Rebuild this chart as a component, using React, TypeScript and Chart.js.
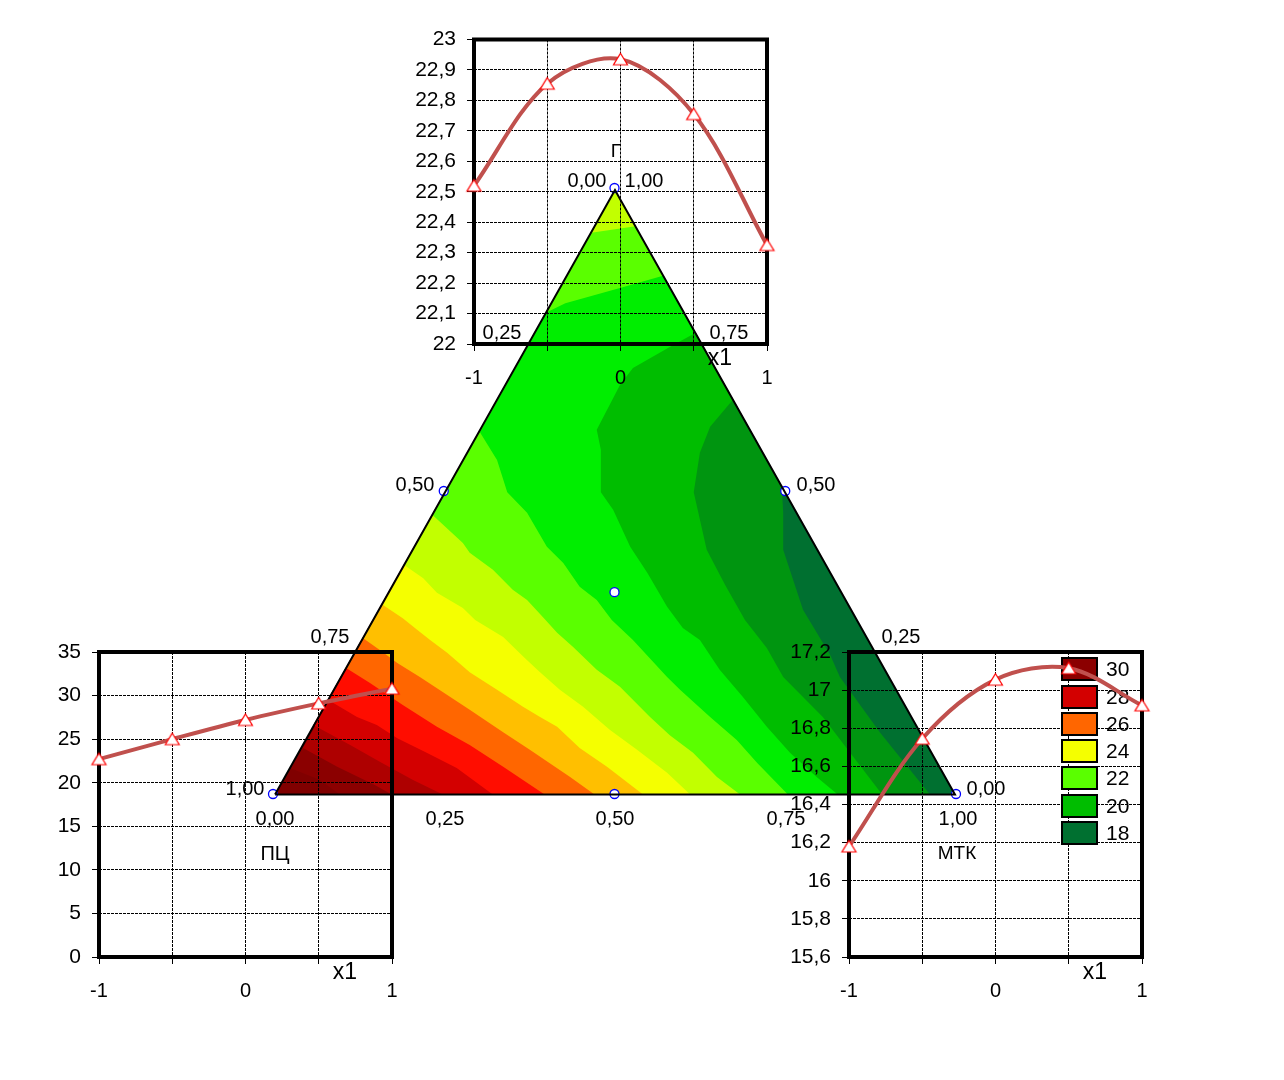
import React, { useEffect, useRef } from "react";
import { Chart, registerables } from "chart.js";

Chart.register(...registerables);

const FONT = '"Liberation Sans", Arial, sans-serif';

// Response curves
const factorLevels = [-1, -0.5, 0, 0.5, 1];
const topCurve = [22.52, 22.855, 22.935, 22.755, 22.325];
const leftCurve = [22.7, 25.0, 27.2, 29.1, 30.8];
const rightCurve = [16.18, 16.745, 17.055, 17.115, 16.92];

// Ternary plot, in plot units (x: 0..100 along the base, y: Г share 0..100)
const APEX: [number, number] = [50.07, 99.67];
const RIGHT: [number, number] = [99.85, -0.1];
const LEFT: [number, number] = [0.3, -0.1];

const bandColors = [
  "#800000", "#8B0000", "#AE0000", "#D30000", "#FF0D00", "#FF6600", "#FFBF00",
  "#F5FF00", "#C2FF00", "#5AFF00", "#00EE00", "#00BD00", "#009510", "#007030",
];

const contour1 = [[2.5, 4.3], [6.9, 2.3], [9.8, -0.1]];
const contour2 = [[4.4, 7.6], [9.4, 4.5], [14.9, 1.5], [17.4, -0.1]];
const contour3 = [[5.9, 11.4], [11.3, 8.1], [15.7, 5.3], [20.5, 2.3], [24.9, -0.1]];
const contour4 = [[8.1, 15.5], [12.3, 12.7], [15.2, 11.4], [18.2, 9.2], [22.5, 6.8], [26.9, 4.3], [32.2, -0.1]];
const contour5 = [[10.7, 20.8], [14.2, 18.3], [19.0, 14.7], [24.0, 11.1], [28.8, 8.1], [33.7, 4.5], [39.8, -0.1]];
const contour6 = [[13.2, 25.7], [16.1, 23.4], [18.2, 21.6], [21.5, 19.3], [24.9, 16.8], [28.8, 13.9], [33.7, 10.2], [37.6, 7.3], [43.5, 2.8], [47.1, -0.1]];
const contour7 = [[16.1, 31.2], [19.0, 29.0], [21.1, 27.1], [23.0, 25.4], [25.5, 23.3], [28.8, 20.1], [32.8, 17.2], [36.6, 14.4], [39.1, 12.7], [41.6, 11.1], [44.9, 7.6], [48.9, 4.5], [54.2, -0.1]];
const contour8 = [[19.2, 37.8], [22.0, 35.6], [24.0, 33.2], [27.8, 30.7], [29.6, 28.7], [33.7, 25.9], [36.9, 22.4], [39.1, 20.1], [42.0, 17.2], [45.4, 14.4], [49.3, 10.6], [53.3, 7.3], [57.7, 3.5], [61.1, -0.1]];
const contour9 = [[23.4, 46.0], [27.8, 41.4], [28.8, 39.8], [32.2, 37.0], [35.1, 33.7], [37.2, 32.0], [39.5, 29.2], [41.6, 26.6], [43.9, 24.3], [47.4, 20.5], [50.8, 17.7], [55.2, 12.7], [58.1, 9.7], [61.5, 6.8], [65.0, 2.8], [68.4, -0.1]];
const contour10 = [[30.3, 59.7], [32.8, 55.1], [34.3, 49.8], [37.2, 46.4], [40.1, 40.8], [42.5, 38.1], [44.9, 34.2], [47.4, 32.0], [49.6, 28.7], [52.7, 25.4], [57.7, 19.3], [59.6, 17.2], [64.0, 12.7], [67.9, 8.9], [70.9, 5.1], [75.4, -0.1]];
const contour11 = [[61.9, 76.1], [58.6, 74.1], [52.7, 70.3], [50.8, 67.5], [47.4, 60.1], [48.0, 56.8], [48.0, 49.8], [49.8, 46.9], [52.3, 40.8], [54.8, 36.5], [57.7, 30.9], [60.0, 27.4], [62.5, 25.4], [65.4, 20.5], [68.8, 16.0], [72.3, 11.1], [75.7, 6.8], [79.6, 2.8], [82.7, -0.1]];
const contour12 = [[67.3, 65.0], [64.0, 60.6], [62.5, 56.3], [61.6, 49.8], [63.5, 40.3], [66.2, 34.5], [69.1, 28.7], [72.3, 24.1], [74.7, 19.3], [80.5, 12.7], [89.2, -0.1]];
const contour13 = [[74.5, 50.7], [74.7, 46.4], [74.7, 40.3], [77.6, 30.4], [81.6, 22.9], [83.0, 19.3], [88.9, 10.1], [96.2, -0.1]];
const capGreen = [[40.1, 79.5], [42.8, 81.0], [50.8, 83.5], [57.1, 85.5]];
const capYellow = [[46.6, 92.6], [53.1, 93.7]];

const designPoints = [[0, 0], [100, 0], [50, 100], [25, 50], [75, 50], [50, 0], [50, 33.3]];

const legendValues = ["30", "28", "26", "24", "22", "20", "18"];
const legendColors = ["#8B0000", "#D30000", "#FF6600", "#F5FF00", "#5AFF00", "#00BD00", "#007030"];

const toPts = (a: number[][]) => a.map(([x, y]) => ({ x, y }));

function textPlugin(items: any[]) {
  return {
    id: "texts",
    afterDraw(chart: any) {
      const c = chart.ctx;
      c.save();
      c.fillStyle = "#000";
      c.textBaseline = "middle";
      for (const t of items) {
        c.textAlign = t.align || "center";
        c.font = `${t.size || 20}px ${FONT}`;
        c.fillText(t.text, t.x, t.y);
      }
      c.restore();
    },
  };
}

const framePlugin = {
  id: "frame",
  beforeDatasetsDraw(chart: any) {
    const { ctx: c, chartArea: a } = chart;
    c.save();
    c.strokeStyle = "#000";
    c.lineWidth = 4;
    c.strokeRect(a.left, a.top, a.right - a.left, a.bottom - a.top);
    c.restore();
  },
};

const legendTops = [658, 686, 713, 740, 767, 795, 822];
const legendPlugin = {
  id: "bandLegend",
  beforeDatasetsDraw(chart: any) {
    const c = chart.ctx;
    c.save();
    legendValues.forEach((v, i) => {
      c.fillStyle = legendColors[i];
      c.strokeStyle = "#000";
      c.lineWidth = 2;
      c.fillRect(1062, legendTops[i], 35, 22);
      c.strokeRect(1062, legendTops[i], 35, 22);
      c.fillStyle = "#000";
      c.font = `21px ${FONT}`;
      c.textAlign = "left";
      c.textBaseline = "middle";
      c.fillText(v, 1106, legendTops[i] + 12);
    });
    c.restore();
  },
};

function markerImage() {
  const m = document.createElement("canvas");
  m.width = 19;
  m.height = 19;
  const c = m.getContext("2d")!;
  c.beginPath();
  c.moveTo(9.5, 3.5);
  c.lineTo(16.5, 15);
  c.lineTo(2.5, 15);
  c.closePath();
  c.fillStyle = "#fff";
  c.fill();
  c.strokeStyle = "#FF0000";
  c.lineWidth = 1.2;
  c.stroke();
  return m;
}

function curveChart(
  canvas: HTMLCanvasElement,
  values: number[],
  box: { left: number; right: number; top: number; bottom: number },
  yr: { min: number; max: number; step: number; digits: number },
  titleAt: { x: number; y: number },
  extra: any[] = []
) {
  const W = 70;
  const H = 60;
  const dash = [3, 1];
  return new Chart(canvas, {
    type: "scatter",
    data: {
      datasets: [
        {
          data: factorLevels.map((x, i) => ({ x, y: values[i] })),
          showLine: true,
          borderColor: "#C0504D",
          borderWidth: 4,
          tension: 0.33,
          clip: false as any,
          pointStyle: markerImage() as any,
          pointRadius: 7,
        },
      ],
    },
    options: {
      responsive: false,
      animation: false,
      layout: {
        autoPadding: false,
        padding: {
          left: box.left - W,
          right: 1284 - box.right,
          top: box.top,
          bottom: 1080 - box.bottom - H,
        },
      },
      plugins: { legend: { display: false }, tooltip: { enabled: false } },
      scales: {
        x: {
          type: "linear",
          min: -1,
          max: 1,
          afterFit: (s: any) => { s.height = H; },
          border: { display: false, dash },
          grid: { color: "#000", lineWidth: 1, tickLength: 7, tickColor: "#000", tickBorderDash: [] as any },
          ticks: {
            stepSize: 0.5,
            autoSkip: false,
            maxRotation: 0,
            padding: 15,
            color: "#000",
            font: { family: FONT, size: 20 },
            callback: (v: any) => (Number.isInteger(v) ? String(v) : ""),
          },
        },
        y: {
          type: "linear",
          min: yr.min,
          max: yr.max,
          afterFit: (s: any) => { s.width = W; },
          border: { display: false, dash },
          grid: { color: "#000", lineWidth: 1, tickLength: 7, tickColor: "#000", tickBorderDash: [] as any },
          ticks: {
            stepSize: yr.step,
            autoSkip: false,
            padding: 11,
            color: "#000",
            font: { family: FONT, size: 21 },
            callback: (v: any) =>
              Number(Number(v).toFixed(yr.digits)).toString().replace(".", ","),
          },
        },
      },
    },
    plugins: [
      framePlugin,
      ...extra,
      textPlugin([{ text: "x1", x: titleAt.x, y: titleAt.y, size: 23 }]),
    ],
  } as any);
}

function ternaryChart(canvas: HTMLCanvasElement) {
  const regions = [
    { pts: [LEFT, RIGHT, APEX], color: bandColors[0] },
    ...[contour1, contour2, contour3, contour4, contour5, contour6, contour7, contour8, contour9, contour10].map(
      (ct, i) => ({ pts: [...ct, RIGHT, APEX], color: bandColors[i + 1] })
    ),
    { pts: [...capGreen, APEX], color: bandColors[9] },
    { pts: [...capYellow, APEX], color: bandColors[8] },
    { pts: [...contour11, RIGHT], color: bandColors[11] },
    { pts: [...contour12, RIGHT], color: bandColors[12] },
    { pts: [...contour13, RIGHT], color: bandColors[13] },
  ];
  const painter: any[] = regions.map((r) => ({
    data: toPts(r.pts as number[][]),
    showLine: true,
    fill: "shape",
    backgroundColor: r.color,
    borderWidth: 0,
    pointRadius: 0,
    tension: 0,
    clip: false,
  }));
  painter.push({
    data: toPts(designPoints),
    showLine: false,
    pointRadius: 4.5,
    pointBackgroundColor: "#fff",
    pointBorderColor: "#0000FF",
    pointBorderWidth: 1.3,
    clip: false,
  });
  painter.push({
    data: toPts([LEFT, RIGHT, APEX, LEFT]),
    showLine: true,
    borderColor: "#000",
    borderWidth: 2,
    pointRadius: 0,
    tension: 0,
    fill: false,
    clip: false,
  });
  return new Chart(canvas, {
    type: "scatter",
    data: { datasets: painter.reverse() },
    options: {
      responsive: false,
      animation: false,
      layout: { autoPadding: false, padding: { left: 273, right: 328, top: 188, bottom: 286 } },
      plugins: { legend: { display: false }, tooltip: { enabled: false } },
      scales: {
        x: { type: "linear", min: 0, max: 100, display: false },
        y: { type: "linear", min: 0, max: 100, display: false },
      },
    },
    plugins: [
      textPlugin([
        { text: "Г", x: 616, y: 152, size: 19 },
        { text: "ПЦ", x: 275, y: 854, size: 20 },
        { text: "МТК", x: 957, y: 854, size: 19 },
        { text: "0,00", x: 587, y: 181 },
        { text: "1,00", x: 644, y: 181 },
        { text: "0,25", x: 502, y: 333 },
        { text: "0,75", x: 729, y: 333 },
        { text: "0,50", x: 415, y: 485 },
        { text: "0,50", x: 816, y: 485 },
        { text: "0,75", x: 330, y: 637 },
        { text: "0,25", x: 901, y: 637 },
        { text: "1,00", x: 245, y: 789 },
        { text: "0,00", x: 986, y: 789 },
        { text: "0,00", x: 275, y: 819 },
        { text: "0,25", x: 445, y: 819 },
        { text: "0,50", x: 615, y: 819 },
        { text: "0,75", x: 786, y: 819 },
        { text: "1,00", x: 958, y: 819 },
      ]),
    ],
  } as any);
}

const canvasStyle: React.CSSProperties = { position: "absolute", left: 0, top: 0 };

export default function App() {
  const base = useRef<HTMLCanvasElement>(null);
  const top = useRef<HTMLCanvasElement>(null);
  const left = useRef<HTMLCanvasElement>(null);
  const right = useRef<HTMLCanvasElement>(null);

  useEffect(() => {
    const charts = [
      ternaryChart(base.current!),
      curveChart(top.current!, topCurve, { left: 474, right: 767, top: 39.5, bottom: 344 },
        { min: 22, max: 23, step: 0.1, digits: 1 }, { x: 720, y: 359 }),
      curveChart(left.current!, leftCurve, { left: 99, right: 392, top: 652, bottom: 957 },
        { min: 0, max: 35, step: 5, digits: 0 }, { x: 345, y: 973 }),
      curveChart(right.current!, rightCurve, { left: 849, right: 1142, top: 652, bottom: 957 },
        { min: 15.6, max: 17.2, step: 0.2, digits: 1 }, { x: 1095, y: 973 }, [legendPlugin]),
    ];
    return () => charts.forEach((c) => c.destroy());
  }, []);

  return (
    <div style={{ position: "absolute", left: 0, top: 0, width: 1284, height: 1080, background: "#fff" }}>
      <canvas ref={base} width={1284} height={1080} style={canvasStyle} />
      <canvas ref={top} width={1284} height={1080} style={canvasStyle} />
      <canvas ref={left} width={1284} height={1080} style={canvasStyle} />
      <canvas ref={right} width={1284} height={1080} style={canvasStyle} />
    </div>
  );
}
